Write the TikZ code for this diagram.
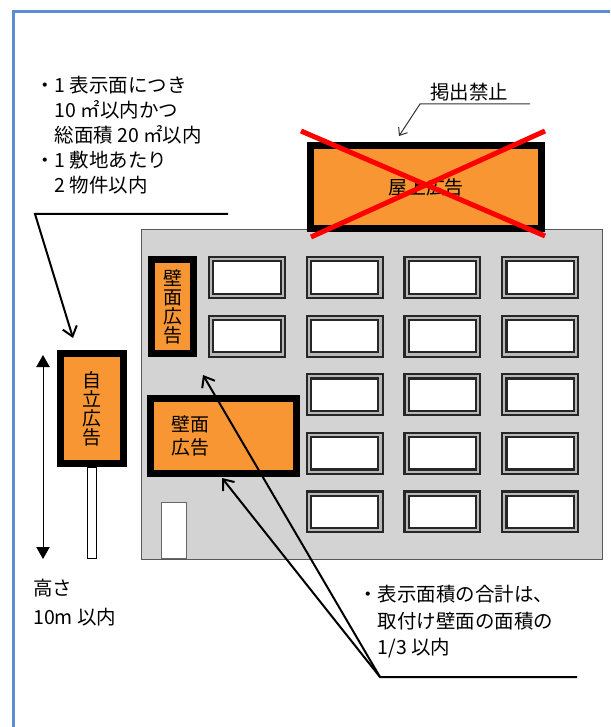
\documentclass[tikz,border=0pt]{standalone}
\usepackage{fontspec}
\setmainfont{Noto Sans CJK JP}
\usetikzlibrary{arrows.meta, positioning}
\definecolor{signorange}{RGB}{247,150,50}
\definecolor{frameblue}{RGB}{91,141,213}
\definecolor{wallgray}{RGB}{211,211,211}

\begin{document}
\begin{tikzpicture}[
    x=0.75pt, y=-0.75pt,
    txt/.style={inner sep=0pt, align=left, font=\fontsize{14.6}{18.75}\selectfont},
    signbox/.style={rectangle, draw=black, line width=5.25pt, fill=signorange, inner sep=0pt, align=center, font=\fontsize{14.2}{14.25}\selectfont},
    winbox/.style={rectangle, draw=black!85, line width=1.6pt, double=gray!55, double distance=1.6pt, fill=white, inner sep=0pt, minimum width=53.7pt, minimum height=27.5pt},
    polebox/.style={rectangle, draw=black, line width=0.75pt, fill=white, inner sep=0pt, minimum width=6.75pt, minimum height=68.5pt},
    doorbox/.style={rectangle, draw=black!60, line width=0.75pt, fill=white, inner sep=0pt, minimum width=18.75pt, minimum height=42pt},
    leader/.style={draw=black, line width=1.5pt, -{Straight Barb[length=7pt, width=11pt]}},
    thinleader/.style={draw=black!80, line width=0.75pt, -{Straight Barb[length=5pt, width=8pt]}},
    banline/.style={draw=red, line width=3.75pt},
    dimarrow/.style={draw=black, line width=0.75pt, {Triangle[length=9pt, width=10pt]}-{Triangle[length=9pt, width=10pt]}}
  ]
    \useasboundingbox (0,0) rectangle (610,727);
    \draw[frameblue, line width=2pt] (13.5,727) |- (610,11.5);

    % building and windows
    \node[rectangle, draw=black!65, line width=0.75pt, fill=wallgray, inner sep=0pt, minimum width=345.75pt, minimum height=247.5pt] (bldg) at (371.5,394) {};
    \foreach \r in {0,1}
      \node[winbox] (w0\r) at (247,{277.5+58.6*\r}) {};
    \foreach \c in {1,2,3}
      \foreach \r in {0,...,4}
        \node[winbox] (w\c\r) at ({247+97.7*\c},{277.5+58.6*\r}) {};
    \node[doorbox, anchor=south] (door) at (173.5,559) {};

    % signs
    \node[signbox, minimum width=173.25pt, minimum height=62.25pt] (roof) at (426,187) {屋上広告};
    \node[signbox, minimum width=31.5pt, minimum height=70.5pt] (wallV) at (172.5,306.5) {壁\\面\\広\\告};
    \node[signbox, minimum width=109.5pt, minimum height=56.25pt] (wallB) at (223.5,436) {};
    \node[txt, font=\fontsize{14.2}{17.25}\selectfont] (wallBtext) at (190,436) {壁面\\広告};
    \node[signbox, minimum width=47.25pt, minimum height=82.5pt] (free) at (92,408.5) {自\\立\\広\\告};
    \node[polebox, below=0pt of free] (pole) {};
    \draw[banline] (301,131) -- (545,236);
    \draw[banline] (545,131) -- (311,237);

    % height
    \coordinate (htop) at (43,355);
    \coordinate (hbot) at (43,559);
    \draw[dimarrow] (htop) -- (hbot);

    % notes
    \node[txt, anchor=west] (noteA) at (35,135) {・1 表示面につき\\　10 ㎡以内かつ\\　総面積 20 ㎡以内\\・1 敷地あたり\\　2 物件以内};
    \node[txt] (ban) at (469,92) {掲出禁止};
    \node[txt, anchor=west, font=\fontsize{14.6}{21.75}\selectfont] (height) at (33,603) {高さ\\10m 以内};
    \node[txt, anchor=west, font=\fontsize{14.6}{19.9}\selectfont] (noteB) at (358,622) {・表示面積の合計は、\\　取付け壁面の面積の\\　1/3 以内};

    % leaders
    \coordinate (noteAend) at (228,214);
    \coordinate (noteAbend) at (35,214);
    \coordinate (freetip) at (73,338);
    \draw[leader] (noteAend) -- (noteAbend) -- (freetip);
    \coordinate (banR) at (530,104);
    \coordinate (banL) at (420,104);
    \coordinate (rooftip) at (399,136);
    \draw[thinleader] (banR) -- (banL) -- (rooftip);
    \coordinate (noteBend) at (577,677);
    \coordinate (noteBjoin) at (380,677);
    \coordinate (wallVtip) at (203,375);
    \coordinate (wallBtip) at (222,478);
    \draw[leader] (noteBend) -- (noteBjoin) -- (wallVtip);
    \draw[leader] (noteBjoin) -- (wallBtip);
  \end{tikzpicture}
\end{document}
